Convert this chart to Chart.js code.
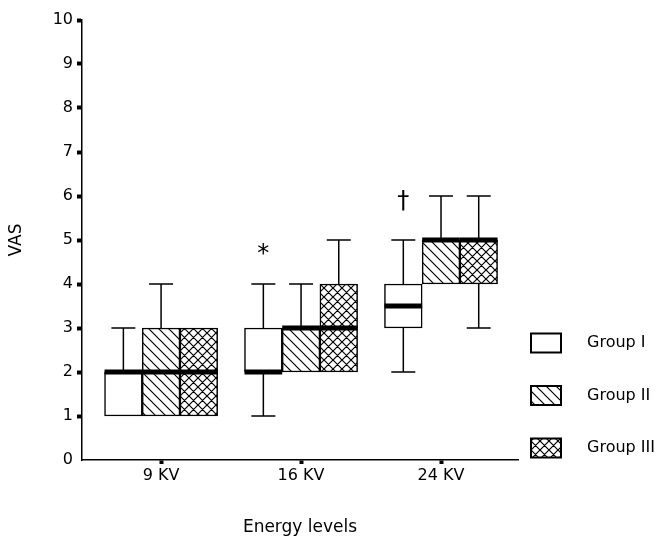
<!DOCTYPE html>
<html>
<head>
<meta charset="utf-8">
<script src="https://cdn.jsdelivr.net/npm/chart.js@4/dist/chart.umd.min.js"></script>
<style>
  html, body { margin: 0; padding: 0; background: #fff; }
</style>
</head>
<body>
<canvas id="vasChart" width="664" height="542"></canvas>
<script>
const categories = ['9 KV', '16 KV', '24 KV'];
const groupNames = ['Group I', 'Group II', 'Group III'];

// boxes: lower / upper quartile
const group1Q1 = [1, 2, 3];
const group1Q3 = [2, 3, 4];
const group2Q1 = [1, 2, 4];
const group2Q3 = [3, 3, 5];
const group3Q1 = [1, 2, 4];
const group3Q3 = [3, 4, 5];

// medians
const group1Median = [2, 2, 3.5];
const group2Median = [2, 3, 5];
const group3Median = [2, 3, 5];

// whiskers
const group1Min = [1, 1, 2];
const group1Max = [3, 4, 5];
const group2Min = [1, 2, 4];
const group2Max = [4, 4, 6];
const group3Min = [1, 2, 3];
const group3Max = [3, 5, 6];

// significance marks above Group I
const markTexts = ['', '*', '\u2020'];
const markValues = [null, 4.8, 5.9];

const yTicks = [0, 1, 2, 3, 4, 5, 6, 7, 8, 9, 10];

const medians = [group1Median, group2Median, group3Median];
const mins = [group1Min, group2Min, group3Min];
const maxs = [group1Max, group2Max, group3Max];

const FONT = "'DejaVu Sans', sans-serif";
const ctx = document.getElementById('vasChart').getContext('2d');

const makePattern = (cross) => {
  const s = cross ? 9 : 10;
  const c = document.createElement('canvas');
  c.width = s; c.height = s;
  const p = c.getContext('2d');
  p.fillStyle = '#fff';
  p.fillRect(0, 0, s, s);
  p.strokeStyle = '#000';
  p.lineWidth = 1.2;
  p.beginPath();
  for (let k = -1; k <= 1; k++) {
    p.moveTo(-1 + k * s, -1); p.lineTo(s + 1 + k * s, s + 1);
    if (cross) { p.moveTo(-1 + k * s, s + 1); p.lineTo(s + 1 + k * s, -1); }
  }
  p.stroke();
  return ctx.createPattern(c, 'repeat');
};

const fills = ['#ffffff', makePattern(false), makePattern(true)];

const toBoxes = (q1, q3) => q1.map((v, i) => ({ x: i, y: [v, q3[i]] }));

const boxPlugin = {
  id: 'boxWhiskers',
  afterDatasetsDraw(chart) {
    const c = chart.ctx;
    const y = chart.scales.y;
    c.save();
    c.strokeStyle = '#000';
    c.lineCap = 'butt';
    chart.data.datasets.forEach((ds, di) => {
      chart.getDatasetMeta(di).data.forEach((bar, i) => {
        const [q1, q3] = ds.data[i].y;
        const cap = 12;
        c.lineWidth = 1.5;
        c.beginPath();
        if (maxs[di][i] > q3) {
          c.moveTo(bar.x, y.getPixelForValue(q3));
          c.lineTo(bar.x, y.getPixelForValue(maxs[di][i]));
          c.moveTo(bar.x - cap, y.getPixelForValue(maxs[di][i]));
          c.lineTo(bar.x + cap, y.getPixelForValue(maxs[di][i]));
        }
        if (mins[di][i] < q1) {
          c.moveTo(bar.x, y.getPixelForValue(q1));
          c.lineTo(bar.x, y.getPixelForValue(mins[di][i]));
          c.moveTo(bar.x - cap, y.getPixelForValue(mins[di][i]));
          c.lineTo(bar.x + cap, y.getPixelForValue(mins[di][i]));
        }
        c.stroke();
        // median
        const my = y.getPixelForValue(medians[di][i]);
        c.lineWidth = 5;
        c.beginPath();
        c.moveTo(bar.x - bar.width / 2, my);
        c.lineTo(bar.x + bar.width / 2, my);
        c.stroke();
      });
    });

    // marks
    c.fillStyle = '#000';
    c.font = "24px 'DejaVu Sans'";
    c.textAlign = 'center';
    c.textBaseline = 'alphabetic';
    const meta0 = chart.getDatasetMeta(0);
    markTexts.forEach((t, i) => {
      if (!t) return;
      const m = c.measureText(t);
      const py = y.getPixelForValue(markValues[i]);
      c.fillText(t, meta0.data[i].x, py + (m.actualBoundingBoxAscent - m.actualBoundingBoxDescent) / 2);
    });

    // legend
    const lx = chart.chartArea.right + 13;
    c.font = '16px ' + FONT;
    c.textAlign = 'left';
    c.textBaseline = 'middle';
    chart.data.datasets.forEach((ds, di) => {
      const ly = 343 + di * 52.5;
      c.fillStyle = ds.backgroundColor;
      c.fillRect(lx, ly - 9.5, 30, 19);
      c.lineWidth = 2;
      c.strokeRect(lx, ly - 9.5, 30, 19);
      c.fillStyle = '#000';
      c.fillText(ds.label, lx + 56, ly);
    });
    c.restore();
  }
};

const vasChart = new Chart(ctx, {
  type: 'bar',
  data: {
    datasets: [
      { label: groupNames[0], data: toBoxes(group1Q1, group1Q3), backgroundColor: fills[0] },
      { label: groupNames[1], data: toBoxes(group2Q1, group2Q3), backgroundColor: fills[1] },
      { label: groupNames[2], data: toBoxes(group3Q1, group3Q3), backgroundColor: fills[2] }
    ]
  },
  options: {
    responsive: false,
    animation: false,
    devicePixelRatio: 1,
    layout: { padding: { top: 20, right: 146, left: 0, bottom: 0 } },
    datasets: {
      bar: { barThickness: 37.7, borderColor: '#000', borderWidth: 1.5, borderSkipped: false }
    },
    plugins: {
      legend: { display: false },
      tooltip: { enabled: false }
    },
    scales: {
      x: {
        type: 'linear',
        offset: false,
        min: -0.565,
        max: 2.55,
        afterBuildTicks: (scale) => { scale.ticks = categories.map((_, i) => ({ value: i })); },
        afterFit: (scale) => { scale.height = 82; },
        ticks: {
          color: '#000',
          font: { family: FONT, size: 16 },
          padding: 2,
          callback: (v) => categories[v]
        },
        grid: { offset: false, drawOnChartArea: false, tickLength: 4, tickWidth: 4, tickColor: '#000' },
        border: { color: '#000', width: 1.5 },
        title: {
          display: true,
          text: 'Energy levels',
          color: '#000',
          font: { family: FONT, size: 17 },
          padding: { top: 0, bottom: 4 }
        }
      },
      y: {
        min: 0,
        max: 10,
        afterBuildTicks: (scale) => { scale.ticks = yTicks.map(v => ({ value: v })); },
        afterFit: (scale) => { scale.width = 82; },
        ticks: {
          color: '#000',
          font: { family: FONT, size: 16 },
          padding: 4
        },
        grid: {
          drawOnChartArea: false,
          tickLength: 5,
          tickWidth: 4,
          tickColor: (c) => (c.tick && c.tick.value === 0 ? 'rgba(0,0,0,0)' : '#000')
        },
        border: { color: '#000', width: 1.5 },
        title: {
          display: true,
          text: 'VAS',
          color: '#000',
          font: { family: FONT, size: 17 },
          padding: { top: 6, bottom: 0 }
        }
      }
    }
  },
  plugins: [boxPlugin]
});
</script>
</body>
</html>
